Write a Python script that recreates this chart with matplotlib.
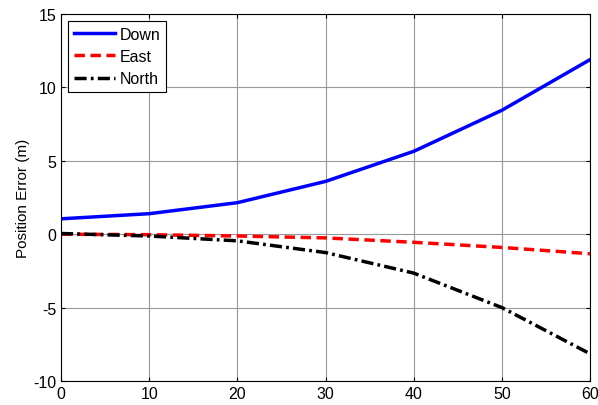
import matplotlib
matplotlib.use("Agg")
import matplotlib.pyplot as plt

plt.rcParams['font.family'] = ['Liberation Sans', 'DejaVu Sans']
plt.rcParams['axes.unicode_minus'] = False

t = [0, 10, 20, 30, 40, 50, 60]
down = [1.05, 1.4, 2.15, 3.6, 5.65, 8.45, 11.9]
east = [0.0, -0.03, -0.12, -0.25, -0.55, -0.9, -1.33]
north = [0.05, -0.12, -0.45, -1.25, -2.65, -5.0, -8.15]

xticks = [0, 10, 20, 30, 40, 50, 60]
yticks = [-10, -5, 0, 5, 10, 15]

fig = plt.figure(figsize=(5.98, 4.06), dpi=100)
ax = fig.add_axes([0.102, 0.059, 0.885, 0.904])

ax.plot(t, down, color='#0000ff', lw=2.5, ls='-', label='Down')
ax.plot(t, east, color='#ff0000', lw=2.5, ls=(0, (3, 1.6)), label='East')
ax.plot(t, north, color='black', lw=2.5, ls=(0, (3.5, 1.2, 0.8, 1.2)), label='North')

ax.set_xlim(0, 60)
ax.set_ylim(-10, 15)
ax.set_xticks(xticks)
ax.set_yticks(yticks)
ax.grid(True, color='#999999', lw=0.8)
ax.tick_params(direction='in', top=True, right=True, labelsize=11.5, length=3)
for s in ax.spines.values():
    s.set_linewidth(0.8)
ax.set_ylabel('Position Error (m)', fontsize=11, labelpad=2)

leg = ax.legend(loc='upper left', fontsize=11.5, fancybox=False, edgecolor='black',
                framealpha=1, borderpad=0.35, labelspacing=0.45, handlelength=2.6,
                handletextpad=0.25, borderaxespad=0.45)
leg.get_frame().set_linewidth(0.8)

fig.savefig('out.png', dpi=100)
